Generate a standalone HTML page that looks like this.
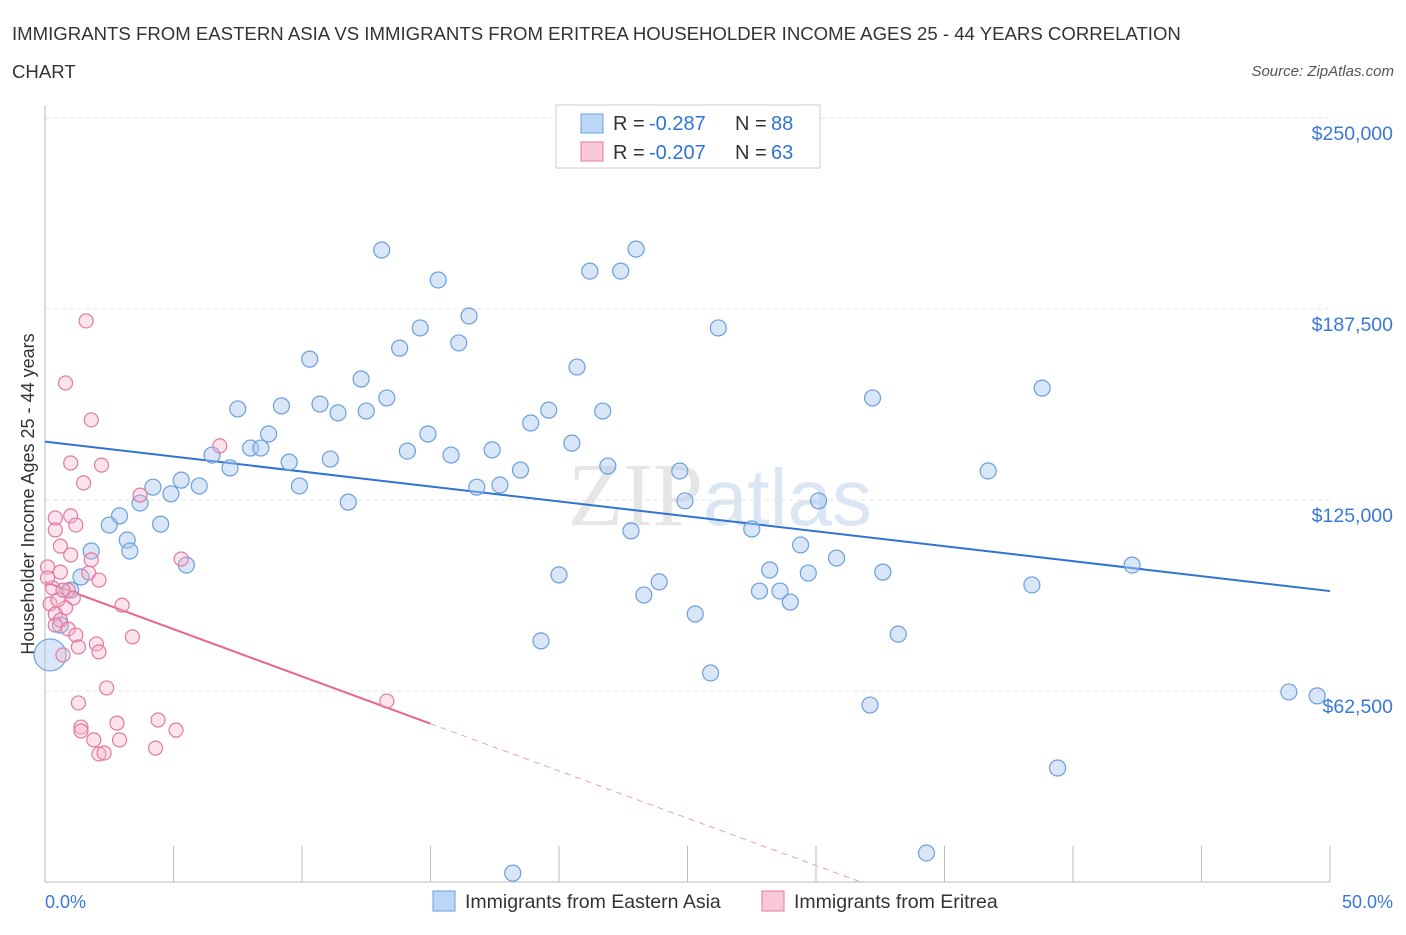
<!DOCTYPE html>
<html><head><meta charset="utf-8"><style>
body{margin:0;background:#fff;font-family:"Liberation Sans",sans-serif;}
</style></head><body>
<svg width="1406" height="930" xmlns="http://www.w3.org/2000/svg" font-family="Liberation Sans, sans-serif">
<text x="12" y="40" font-size="18.6" fill="#333">IMMIGRANTS FROM EASTERN ASIA VS IMMIGRANTS FROM ERITREA HOUSEHOLDER INCOME AGES 25 - 44 YEARS CORRELATION</text>
<text x="12" y="78" font-size="18.6" fill="#333">CHART</text>
<text x="1394" y="76" font-size="15" fill="#555" font-style="italic" text-anchor="end">Source: ZipAtlas.com</text>
<text x="720" y="525" font-size="90" fill="#e6e6e6" text-anchor="middle" font-family="Liberation Serif, serif">ZIP<tspan fill="#dbe6f5" font-family="Liberation Sans, sans-serif" font-size="80">atlas</tspan></text>
<g id="grid"></g>
<g id="axes"></g>
<g id="trend"></g>
<g id="pts"></g>
<text transform="translate(34,494) rotate(-90)" font-size="18" fill="#333" text-anchor="middle">Householder Income Ages 25 - 44 years</text>
<text x="45" y="908" font-size="18" fill="#3a78d8">0.0%</text>
<text x="1393" y="908" font-size="18" fill="#3a78d8" text-anchor="end">50.0%</text>
<g>
<rect x="556" y="105" width="264" height="63" fill="#fff" stroke="#ccc"/>
<rect x="581" y="114" width="22" height="19" fill="#bcd6f7" stroke="#6a9fdc"/>
<rect x="581" y="142" width="22" height="19" fill="#f9c8d8" stroke="#e27aa0"/>
<text x="613" y="130" font-size="20" fill="#333">R =</text>
<text x="649" y="130" font-size="20" fill="#2f73d6">-0.287</text>
<text x="735" y="130" font-size="20" fill="#333">N =</text>
<text x="771" y="130" font-size="20" fill="#2f73d6">88</text>
<text x="613" y="159" font-size="20" fill="#333">R =</text>
<text x="649" y="159" font-size="20" fill="#2f73d6">-0.207</text>
<text x="735" y="159" font-size="20" fill="#333">N =</text>
<text x="771" y="159" font-size="20" fill="#2f73d6">63</text>
</g>
<g>
<rect x="433" y="891" width="22" height="20" fill="#bcd6f7" stroke="#6a9fdc"/>
<text x="465" y="908" font-size="19.5" fill="#333">Immigrants from Eastern Asia</text>
<rect x="762" y="891" width="22" height="20" fill="#f9c8d8" stroke="#e27aa0"/>
<text x="794" y="908" font-size="19.5" fill="#333">Immigrants from Eritrea</text>
</g>
</svg>
<script>
const yTicks=[62500,125000,187500,250000];
const yTickLabels=["$62,500","$125,000","$187,500","$250,000"];
const xTicks=[0,5,10,15,20,25,30,35,40,45,50];
const blueX=[13.1,15.3,16.5,14.6,13.8,16.1,10.3,12.3,13.3,10.7,11.4,9.2,12.5,7.5,8.7,14.9,14.1,15.8,17.4,18.9,19.6,20.5,18.5,16.8,17.7,20.7,21.2,22.4,23.0,21.7,21.9,26.2,32.2,38.8,36.7,24.7,24.9,30.1,8.0,8.4,6.5,7.2,9.5,11.1,11.8,9.9,5.3,6.0,4.9,4.2,3.7,4.5,2.9,2.5,3.2,3.3,1.8,5.5,1.4,1.0,0.6,0.2,20.0,22.8,23.9,23.3,25.3,27.5,28.2,27.8,28.6,29.0,29.4,29.7,30.8,32.6,33.2,32.1,25.9,19.3,38.4,42.3,48.4,49.5,39.4,34.3,18.2];
const blueY=[206.8,197.0,185.2,181.3,174.7,176.4,171.1,164.6,158.4,156.4,153.5,155.8,154.1,154.8,146.6,146.6,141.0,139.7,141.4,150.2,154.4,143.6,134.8,129.2,129.9,168.5,199.9,199.9,207.1,154.1,136.1,181.3,158.4,161.6,134.5,134.5,124.7,124.7,142.0,142.0,139.7,135.5,137.4,138.4,124.3,129.6,131.5,129.6,127.0,129.2,124.0,117.1,119.8,116.8,111.9,108.3,108.3,103.7,99.8,95.5,84.1,74.3,100.5,114.9,98.2,93.9,87.7,115.5,102.1,95.2,95.2,91.6,110.3,101.1,106.0,101.4,81.1,57.9,68.4,78.9,97.2,103.7,62.2,60.9,37.3,9.5,2.9];
const pinkX=[1.6,0.8,1.8,6.8,1.0,2.2,1.5,3.7,5.3,0.4,1.0,1.2,0.4,0.6,1.0,1.8,0.1,1.7,0.6,2.1,0.3,0.9,1.1,0.2,0.8,0.4,0.6,0.4,0.9,3.0,1.2,2.0,3.4,1.3,2.1,0.7,2.4,1.3,1.4,2.8,4.4,5.1,1.4,1.9,2.9,2.1,2.3,4.3,13.3,0.1,0.5,0.7];
const pinkY=[183.6,163.3,151.2,142.7,137.1,136.4,130.6,126.6,105.7,119.1,119.8,116.8,115.2,109.9,107.0,105.4,103.1,101.1,101.4,98.8,96.2,95.5,92.9,91.0,89.7,87.7,85.7,84.1,82.8,90.6,80.8,77.9,80.2,76.9,75.3,74.3,63.5,58.6,50.7,52.0,53.0,49.7,49.4,46.5,46.5,41.9,42.2,43.8,59.2,99.5,92.3,95.5];
const blueTrend=[144.1,95.2];
const pinkTrend=[98.2,51.8];
const NS="http://www.w3.org/2000/svg";
const sx=v=>45+v/50*1285;
const sy=v=>882-v/250000*764;
function mk(t,a,p){const e=document.createElementNS(NS,t);for(const k in a)e.setAttribute(k,a[k]);p.appendChild(e);return e;}
const grid=document.getElementById('grid'),axes=document.getElementById('axes'),tr=document.getElementById('trend'),pts=document.getElementById('pts');
yTicks.forEach((t,i)=>{
 const l=mk('line',{x1:45,x2:1330,y1:sy(t),y2:sy(t),stroke:'#e3e3e3','stroke-dasharray':'4,4'},grid);
 
 
 const tx=mk('text',{x:1393,y:sy(t)+22,'font-size':19.5,fill:'#3a78d8','text-anchor':'end'},axes);
 tx.textContent=yTickLabels[i];
 
 
});
mk('line',{x1:45,x2:45,y1:105,y2:882,stroke:'#bbb'},axes);
mk('line',{x1:45,x2:1330,y1:882,y2:882,stroke:'#bbb'},axes);
xTicks.forEach(t=>{
 const l=mk('line',{x1:sx(t),x2:sx(t),y1:846,y2:882,stroke:'#bbb'},axes);
 
 
});
let l=mk('line',{x1:sx(0),y1:sy(blueTrend[0]*1000),x2:sx(50),y2:sy(blueTrend[1]*1000),stroke:'#2f73d6','stroke-width':2},tr);


const slope=(pinkTrend[1]-pinkTrend[0])/15;
const xz=-pinkTrend[0]/slope;
l=mk('line',{x1:sx(0),y1:sy(pinkTrend[0]*1000),x2:sx(15),y2:sy(pinkTrend[1]*1000),stroke:'#e8648f','stroke-width':2},tr);


l=mk('line',{x1:sx(15),y1:sy(pinkTrend[1]*1000),x2:sx(xz),y2:sy(0),stroke:'#e8a0b8','stroke-width':1,'stroke-dasharray':'6,5'},tr);


blueX.forEach((x,i)=>{
 const r=(i===61)?16:8;
 const c=mk('circle',{cx:sx(x),cy:sy(blueY[i]*1000),r:r,fill:'rgba(170,200,240,0.45)',stroke:'#6a9fdc','stroke-width':1.2},pts);
 
 
});
pinkX.forEach((x,i)=>{
 const c=mk('circle',{cx:sx(x),cy:sy(pinkY[i]*1000),r:7,fill:'rgba(245,175,200,0.35)',stroke:'#e27aa0','stroke-width':1.2},pts);
 
 
});
</script>
</body></html>
